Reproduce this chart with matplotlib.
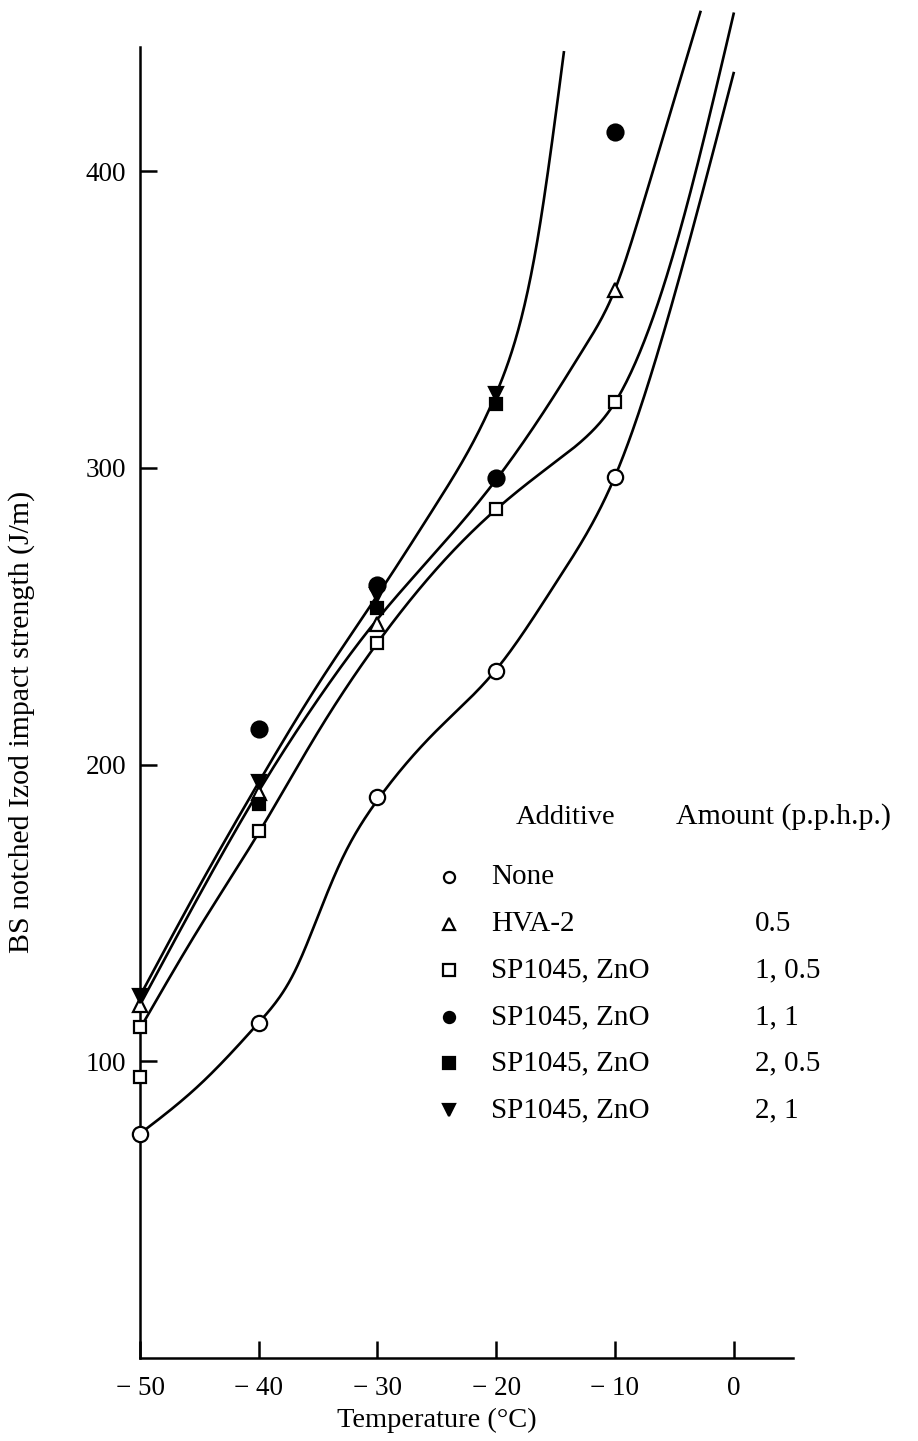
import numpy as np
import matplotlib
matplotlib.use('Agg')
from matplotlib import pyplot as plt

plt.rcParams['font.family'] = ['Liberation Serif', 'DejaVu Serif']

# measured points (temperature degC, impact strength J/m)
none_x = [-50, -40, -30, -20, -10]
none_y = [75.6, 113, 189, 231.5, 297]

hva_x = [-50, -40, -30, -10]
hva_y = [119, 190.4, 247.5, 360]

sq_x = [-50, -50, -40, -30, -20, -10]
sq_y = [111.5, 94.7, 177.6, 241, 286, 322]

fc_x = [-40, -30, -20, -10]
fc_y = [212, 260.5, 296.5, 413]

fs_x = [-40, -30, -20]
fs_y = [186.7, 252.8, 321.5]

td_x = [-50, -40, -30, -20]
td_y = [122, 194, 257, 325]

# hand drawn fitted curves
curveA_x = [-50, -45, -40, -35, -30, -25, -20, -16.6, -14.3]
curveA_y = [122, 159, 194, 227, 257, 288, 325, 375, 440]
curveB_x = [-50, -45, -40, -35, -30, -25, -20, -15, -12.5, -10, -8, -6.2, -2.8]
curveB_y = [119, 156, 191, 222, 249, 272, 296, 325, 341, 360, 384, 408, 453.6]
curveC_x = [-50, -45, -40, -35, -30, -25, -20, -15, -12, -10, -8, -6, -3.7, 0]
curveC_y = [111, 145, 177, 211, 241, 266, 286, 302, 312, 322, 338, 360, 392, 453]
curveD_x = [-50, -45, -40, -37, -35, -33, -30, -25, -20, -15, -12.5, -10, -5, 0]
curveD_y = [75.6, 92, 113, 130, 149, 168, 188, 211.5, 232, 261, 277, 297, 358, 433]

xticks = [-50, -40, -30, -20, -10, 0]
xtick_labels = ['\u2212 50', '\u2212 40', '\u2212 30', '\u2212 20', '\u2212 10', '0']
yticks = [100, 200, 300, 400]

leg_names = ['None', 'HVA-2', 'SP1045, ZnO', 'SP1045, ZnO', 'SP1045, ZnO', 'SP1045, ZnO']
leg_amounts = ['', '0.5', '1, 0.5', '1, 1', '2, 0.5', '2, 1']


def spline(xs, ys, n=400):
    # natural cubic spline through the traced points, only for drawing
    x = np.array(xs, float)
    y = np.array(ys, float)
    h = np.diff(x)
    N = len(x)
    A = np.zeros((N, N))
    b = np.zeros(N)
    A[0, 0] = 1
    A[-1, -1] = 1
    for i in range(1, N - 1):
        A[i, i - 1] = h[i - 1]
        A[i, i] = 2 * (h[i - 1] + h[i])
        A[i, i + 1] = h[i]
        b[i] = 3 * ((y[i + 1] - y[i]) / h[i] - (y[i] - y[i - 1]) / h[i - 1])
    c = np.linalg.solve(A, b)
    bc = (y[1:] - y[:-1]) / h - h * (2 * c[:-1] + c[1:]) / 3
    d = (c[1:] - c[:-1]) / (3 * h)
    xx = np.linspace(x[0], x[-1], n)
    idx = np.clip(np.searchsorted(x, xx, side='right') - 1, 0, N - 2)
    dx = xx - x[idx]
    yy = y[idx] + bc[idx] * dx + c[idx] * dx ** 2 + d[idx] * dx ** 3
    return xx, yy


W, H = 918, 1441
fig = plt.figure(figsize=(W / 100, H / 100), dpi=100)
ax = fig.add_axes([140 / W, 1 - 1358 / H, (793 - 140) / W, (1358 - 47) / H])

lw = 1.9
for cx, cy in [(curveA_x, curveA_y), (curveB_x, curveB_y), (curveC_x, curveC_y), (curveD_x, curveD_y)]:
    sx, sy = spline(cx, cy)
    ax.plot(sx, sy, color='black', lw=lw, clip_on=False, zorder=2)

mk = dict(color='black', linestyle='none', clip_on=False, zorder=3, markeredgewidth=1.6)
ax.plot(none_x, none_y, marker='o', ms=11, markerfacecolor='white', **mk)
ax.plot(hva_x, hva_y, marker='^', ms=10, markerfacecolor='white', **mk)
ax.plot(sq_x, sq_y, marker='s', ms=8.5, markerfacecolor='white', **mk)
ax.plot(fc_x, fc_y, marker='o', ms=11.5, markerfacecolor='black', **mk)
ax.plot(fs_x, fs_y, marker='s', ms=8.5, markerfacecolor='black', **mk)
ax.plot(td_x, td_y, marker='v', ms=10, markerfacecolor='black', **mk)

ax.set_xlim(-50, 5)
ax.set_ylim(0, 441.8)
ax.spines['top'].set_visible(False)
ax.spines['right'].set_visible(False)
for s in ['left', 'bottom']:
    ax.spines[s].set_linewidth(1.8)
ax.set_xticks(xticks)
ax.set_xticklabels(xtick_labels)
ax.set_yticks(yticks)
ax.tick_params(direction='in', length=12, width=1.8, labelsize=19.5)
ax.tick_params(axis='x', pad=13)
ax.tick_params(axis='y', pad=10)

fig.text(437 / W, 1 - 1420 / H, 'Temperature (\u00b0C)', fontsize=20.5, ha='center', va='center')
fig.text(22 / W, 1 - 722 / H, 'BS notched Izod impact strength (J/m)', fontsize=21.5,
         rotation=90, ha='center', va='center')

# legend table in pixel coords
lg = fig.add_axes([0, 0, 1, 1])
lg.set_xlim(0, W)
lg.set_ylim(H, 0)
lg.axis('off')
lg.text(566, 817, 'Additive', fontsize=20.5, ha='center', va='center')
lg.text(676, 817, 'Amount (p.p.h.p.)', fontsize=21.5, ha='left', va='center')
rows_y = [877, 924, 970, 1017, 1063, 1110]
leg_marks = [('o', 'white'), ('^', 'white'), ('s', 'white'), ('o', 'black'), ('s', 'black'), ('v', 'black')]
for ry, (m, fc), name, amt in zip(rows_y, leg_marks, leg_names, leg_amounts):
    lg.plot([449], [ry], marker=m, ms=8, markerfacecolor=fc, color='black', markeredgewidth=1.6, linestyle='none')
    lg.text(491, ry, name, fontsize=21, ha='left', va='center')
    lg.text(755, ry, amt, fontsize=21, ha='left', va='center')

fig.savefig('out.png', dpi=100)
